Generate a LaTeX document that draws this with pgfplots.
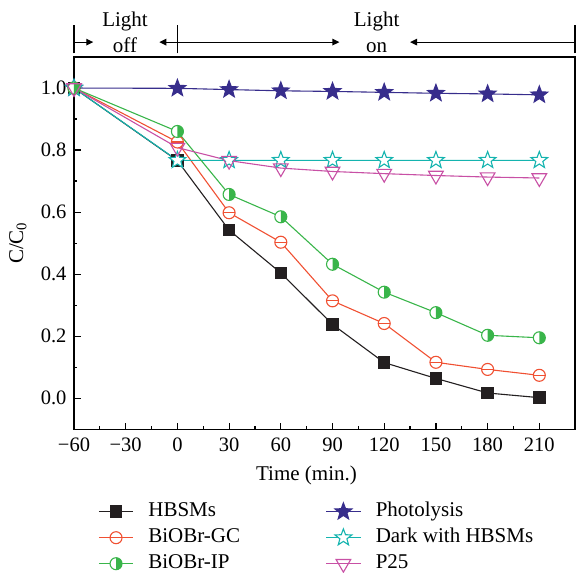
\documentclass[border=0pt]{standalone}
\usepackage{fontspec}
\setmainfont{Liberation Serif}
\usepackage{pgfplots}
\pgfplotsset{compat=1.18}
\usetikzlibrary{arrows.meta,plotmarks}

\definecolor{cH}{RGB}{35,31,32}
\definecolor{cGC}{RGB}{240,80,50}
\definecolor{cIP}{RGB}{57,181,74}
\definecolor{cPh}{RGB}{55,45,140}
\definecolor{cDk}{RGB}{20,180,175}
\definecolor{cP}{RGB}{200,80,165}

\pgfdeclareplotmark{fivestar}{%
  \pgfpathmoveto{\pgfpointpolar{90}{\pgfplotmarksize}}%
  \pgfpathlineto{\pgfpointpolar{126}{0.42\pgfplotmarksize}}%
  \pgfpathlineto{\pgfpointpolar{162}{\pgfplotmarksize}}%
  \pgfpathlineto{\pgfpointpolar{198}{0.42\pgfplotmarksize}}%
  \pgfpathlineto{\pgfpointpolar{234}{\pgfplotmarksize}}%
  \pgfpathlineto{\pgfpointpolar{270}{0.42\pgfplotmarksize}}%
  \pgfpathlineto{\pgfpointpolar{306}{\pgfplotmarksize}}%
  \pgfpathlineto{\pgfpointpolar{342}{0.42\pgfplotmarksize}}%
  \pgfpathlineto{\pgfpointpolar{18}{\pgfplotmarksize}}%
  \pgfpathlineto{\pgfpointpolar{54}{0.42\pgfplotmarksize}}%
  \pgfpathclose\pgfusepathqfillstroke}
\pgfdeclareplotmark{ominus}{%
  \pgfpathcircle{\pgfpointorigin}{\pgfplotmarksize}\pgfusepathqfillstroke
  \pgfpathmoveto{\pgfqpoint{-\pgfplotmarksize}{0pt}}%
  \pgfpathlineto{\pgfqpoint{\pgfplotmarksize}{0pt}}\pgfusepathqstroke}
\pgfdeclareplotmark{halfright}{%
  \begin{pgfscope}\pgfsetfillcolor{white}%
  \pgfpathcircle{\pgfpointorigin}{\pgfplotmarksize}\pgfusepathqfill
  \end{pgfscope}%
  \pgfpathmoveto{\pgfqpoint{0pt}{\pgfplotmarksize}}%
  \pgfpatharc{90}{-90}{\pgfplotmarksize}%
  \pgfpathclose\pgfusepathqfill
  \pgfpathcircle{\pgfpointorigin}{\pgfplotmarksize}\pgfusepathqstroke}

\begin{document}
\begin{tikzpicture}
\begin{axis}[
  scale only axis, width=501pt, height=372.3pt,
  xmin=-60, xmax=230.7, ymin=-0.1, ymax=1.1,
  clip=false,
  font=\fontsize{21}{25}\selectfont,
  axis line style={line width=1.3pt, black},
  xtick={-60,-30,0,30,60,90,120,150,180,210},
  xticklabels={−60,−30,0,30,60,90,120,150,180,210},
  ytick={0,0.2,0.4,0.6,0.8,1},
  yticklabels={0.0,0.2,0.4,0.6,0.8,1.0},
  tick label style={font=\fontsize{20.5}{24}\selectfont},
  minor x tick num=1, minor y tick num=1,
  tick align=inside, xtick pos=bottom, ytick pos=left,
  major tick length=6.7pt, minor tick length=3.4pt,
  tick style={line width=1.2pt, black},
  xticklabel style={yshift=-5pt},
  yticklabel style={xshift=-4pt},
  xlabel={Time (min.)},
  xlabel style={at={(axis description cs:0.464,0)}, anchor=center, yshift=-45.7pt},
  ylabel={C/C\textsubscript{0}},
  ylabel style={at={(axis description cs:-0.112,0.5)}, anchor=center},
  every axis plot/.append style={line width=1.1pt},
  legend columns=2,
  legend cell align=left,
  legend image code/.code={\draw[mark repeat=2,mark phase=2] plot coordinates {(0pt,0pt)(17.2pt,0pt)(34.4pt,0pt)};},
  legend style={at={(axis description cs:0,0)}, anchor=north west, xshift=24.3pt, yshift=-73.4pt,
    draw=none, fill=none, inner sep=0pt, outer sep=0pt, row sep=8pt, column sep=14.6pt,
    font=\fontsize{21}{25}\selectfont,
    nodes={inner sep=0pt, text height=14pt, text depth=4pt},
    /tikz/every even column/.append style={column sep=85.5pt}},
]
\addplot[color=cH, mark=square*, mark size=5.7pt, mark options={solid}] coordinates {
(-60,1) (0,0.766) (30,0.542) (60,0.404) (90,0.238) (120,0.115) (150,0.064) (180,0.017) (210,0.002)};
\addlegendentry{HBSMs}
\addplot[color=cPh, mark=fivestar, mark size=8.8pt] coordinates {
(-60,1) (0,0.999) (30,0.995) (60,0.991) (90,0.989) (120,0.986) (150,0.983) (180,0.981) (210,0.978)};
\addlegendentry{Photolysis}
\addplot[color=cGC, mark=ominus, mark size=6pt, mark options={fill=white}] coordinates {
(-60,1) (0,0.826) (30,0.598) (60,0.503) (90,0.314) (120,0.241) (150,0.116) (180,0.093) (210,0.074)};
\addlegendentry{BiOBr-GC}
\addplot[color=cDk, mark=fivestar, mark size=8.8pt, mark options={fill=white}] coordinates {
(-60,1) (0,0.767) (30,0.767) (60,0.767) (90,0.767) (120,0.767) (150,0.767) (180,0.767) (210,0.767)};
\addlegendentry{Dark with HBSMs}
\addplot[color=cIP, mark=halfright, mark size=6pt] coordinates {
(-60,1) (0,0.86) (30,0.657) (60,0.585) (90,0.432) (120,0.342) (150,0.276) (180,0.203) (210,0.195)};
\addlegendentry{BiOBr-IP}
\addplot[color=cP, mark=triangle, mark size=8.5pt, mark options={fill=white, rotate=180}] coordinates {
(-60,1) (0,0.808) (30,0.766) (60,0.742) (90,0.731) (120,0.724) (150,0.718) (180,0.713) (210,0.710)};
\addlegendentry{P25}

% annotations
\draw[line width=1.2pt] (axis cs:-60,1.112) -- (axis cs:-60,1.203);
\draw[line width=1.2pt] (axis cs:0,1.112) -- (axis cs:0,1.203);
\draw[line width=1.2pt] (axis cs:230.7,1.112) -- (axis cs:230.7,1.203);
\draw[line width=1.2pt,-{Triangle[length=7pt,width=6.5pt]}] (axis cs:-60,1.148) -- (axis cs:-48.8,1.148);
\draw[line width=1.2pt,-{Triangle[length=7pt,width=6.5pt]}] (axis cs:0,1.148) -- (axis cs:-10.5,1.148);
\draw[line width=1.2pt,-{Triangle[length=7pt,width=6.5pt]}] (axis cs:0,1.148) -- (axis cs:94,1.148);
\draw[line width=1.2pt,-{Triangle[length=7pt,width=6.5pt]}] (axis cs:230.7,1.148) -- (axis cs:135,1.148);
\node[anchor=base, inner sep=0pt] at (axis cs:-30.4,1.198) {Light};
\node[anchor=base, inner sep=0pt] at (axis cs:-30.4,1.114) {off};
\node[anchor=base, inner sep=0pt] at (axis cs:115.6,1.198) {Light};
\node[anchor=base, inner sep=0pt] at (axis cs:115.6,1.114) {on};
\end{axis}
\pgfresetboundingbox
\path[use as bounding box] (-74pt,-143.7pt) rectangle (502pt,429.3pt);
\end{tikzpicture}
\end{document}
